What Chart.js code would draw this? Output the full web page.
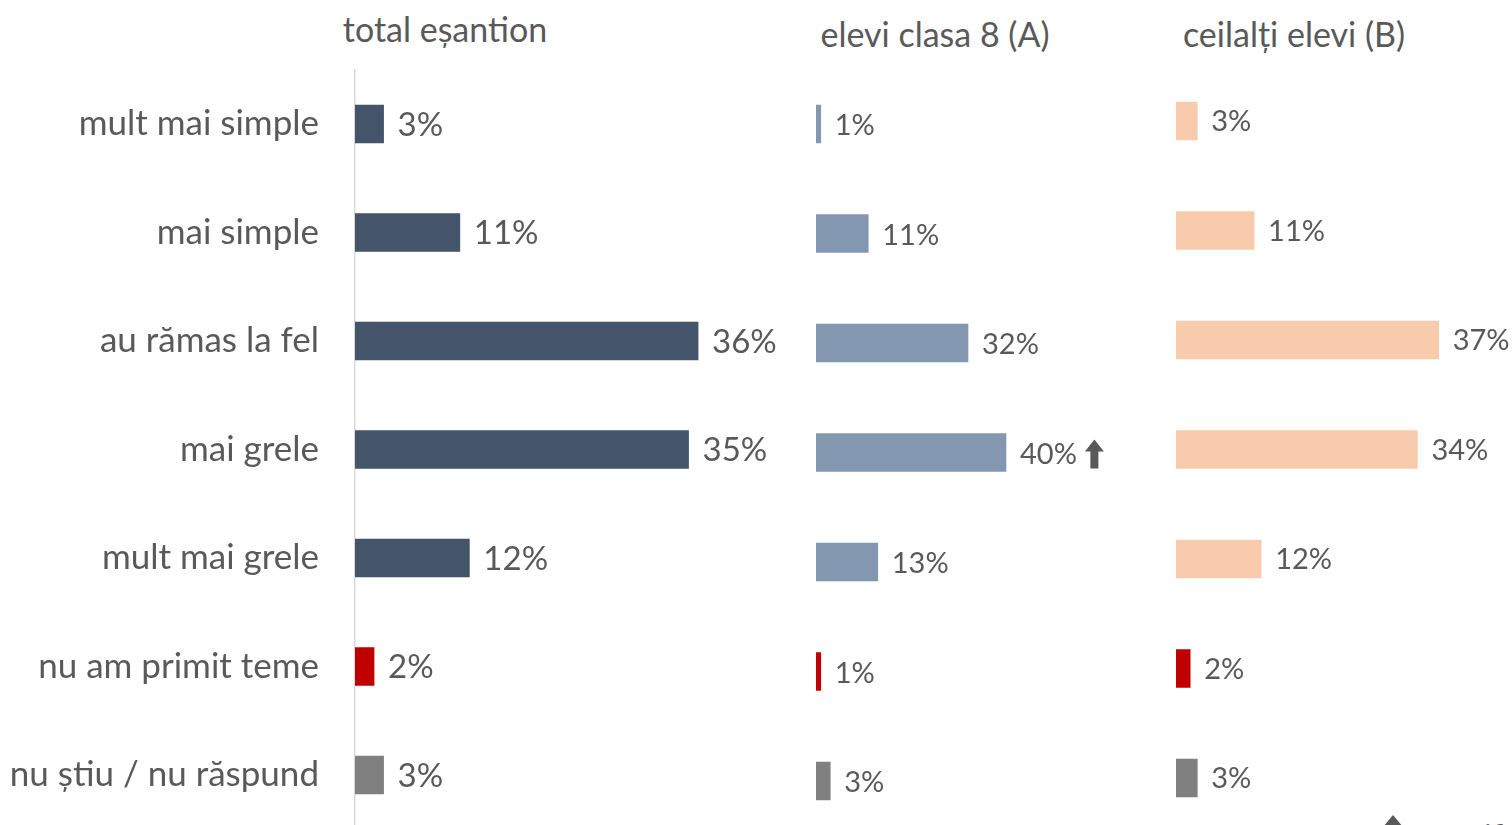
<!DOCTYPE html>
<html>
<head>
<meta charset="utf-8">
<script src="https://cdn.jsdelivr.net/npm/chart.js@4.4.1/dist/chart.umd.min.js"></script>
<style>
  html, body { margin: 0; padding: 0; width: 1512px; height: 825px; overflow: hidden; background: #fff; }
  body { position: relative; font-family: Lato, "Open Sans", sans-serif; color: #595959; }
  .box { position: absolute; top: 0; }
  .title { position: absolute; font-size: 34px; white-space: nowrap; transform: translate(-50%, -50%); }
  .legend { position: absolute; left: 1383px; top: 815px; white-space: nowrap; font-size: 28px; }
  .tri { display: inline-block; width: 0; height: 0; border-left: 10px solid transparent; border-right: 10px solid transparent; border-bottom: 12px solid #595959; vertical-align: top; margin-right: 16px; }
</style>
</head>
<body>
<div class="title" style="left:445px;top:28px">total eșantion</div>
<div class="title" style="left:935px;top:33px">elevi clasa 8 (A)</div>
<div class="title" style="left:1294px;top:33px">ceilalți elevi (B)</div>
<div class="legend"><span class="tri"></span><span style="position:relative;top:2px">semnificativ mai mare</span></div>

<div class="box" style="left:0px"><canvas id="c1"></canvas></div>
<div class="box" style="left:800px"><canvas id="c2"></canvas></div>
<div class="box" style="left:1160px"><canvas id="c3"></canvas></div>

<script>
// ===== DATA =====
const categories = ['mult mai simple', 'mai simple', 'au rămas la fel', 'mai grele', 'mult mai grele', 'nu am primit teme', 'nu știu / nu răspund'];
const totalEsantion = [3, 11, 36, 35, 12, 2, 3];
const eleviClasa8 = [1, 11, 32, 40, 13, 1, 3];
const ceilaltiElevi = [3, 11, 37, 34, 12, 2, 3];
// semnificativ mai mare (A vs B)
const semnClasa8 = ['', '', '', 'up', '', '', ''];

const TEXT = '#595959';
const RED = '#C00000';
const GREY = '#808080';
const FONT = 'Lato, "Open Sans", sans-serif';

function colorsFor(main) {
  return categories.map((c, i) => i === 5 ? RED : (i === 6 ? GREY : main));
}

// etichete de valoare + sageata
const valueLabels = {
  id: 'valueLabels',
  afterDatasetsDraw(chart, args, opts) {
    const ctx = chart.ctx;
    const meta = chart.getDatasetMeta(0);
    const vals = chart.data.datasets[0].data;
    ctx.save();
    ctx.font = opts.size + 'px ' + FONT;
    ctx.fillStyle = TEXT;
    ctx.textBaseline = 'middle';
    ctx.textAlign = 'left';
    meta.data.forEach((bar, i) => {
      const txt = vals[i] + '%';
      const x = bar.x + opts.offset;
      const y = bar.y + (opts.dy || 0);
      ctx.fillText(txt, x, y);
      if (opts.markers && opts.markers[i] === 'up') {
        const w = ctx.measureText(txt).width;
        const ax = x + w + 8, top = y - 15, h = 29, aw = 19;
        ctx.beginPath();
        ctx.moveTo(ax, top + 12);
        ctx.lineTo(ax + aw / 2, top);
        ctx.lineTo(ax + aw, top + 12);
        ctx.closePath();
        ctx.fill();
        ctx.fillRect(ax + aw / 2 - 4, top + 11, 8, h - 11);
      }
    });
    ctx.restore();
  }
};

function makeChart(id, values, color, o) {
  const cv = document.getElementById(id);
  cv.width = o.width; cv.height = o.height;
  cv.style.width = o.width + 'px'; cv.style.height = o.height + 'px';
  return new Chart(cv, {
    type: 'bar',
    plugins: [valueLabels],
    data: {
      labels: categories,
      datasets: [{ data: values, backgroundColor: colorsFor(color), borderWidth: 0, barThickness: 38 }]
    },
    options: {
      indexAxis: 'y',
      responsive: false,
      animation: false,
      devicePixelRatio: 1,
      layout: { padding: { left: o.padLeft, right: 0, top: o.top, bottom: o.height - o.bottom } },
      scales: {
        x: { display: false, min: 0, max: o.max },
        y: o.showY ? {
          afterFit: s => { s.width = o.axisX; s.paddingTop = 0; s.paddingBottom = 0; },
          grid: { display: false, drawTicks: false },
          border: { display: true, color: '#D9D9D9', width: 1.5 },
          ticks: { padding: 36, color: TEXT, font: { family: FONT, size: 35 } }
        } : { display: false }
      },
      plugins: {
        legend: { display: false },
        tooltip: { enabled: false },
        valueLabels: { size: o.labelSize, offset: o.offset, dy: o.dy, markers: o.markers }
      }
    }
  });
}

makeChart('c1', totalEsantion, '#44546A', {
  width: 800, height: 840, padLeft: 0, axisX: 355, top: 69.75, bottom: 829.25,
  max: 445 / 9.53, showY: true, labelSize: 33, offset: 14, dy: 1
});
makeChart('c2', eleviClasa8, '#8497B0', {
  width: 360, height: 845, padLeft: 16, top: 69.25, bottom: 835.75,
  max: 344 / 4.75, showY: false, labelSize: 29, offset: 14, dy: 2, markers: semnClasa8
});
makeChart('c3', ceilaltiElevi, '#F8CBAD', {
  width: 352, height: 845, padLeft: 16, top: 66.25, bottom: 832.75,
  max: 336 / 7.1, showY: false, labelSize: 29, offset: 14, dy: 1
});
</script>
</body>
</html>
